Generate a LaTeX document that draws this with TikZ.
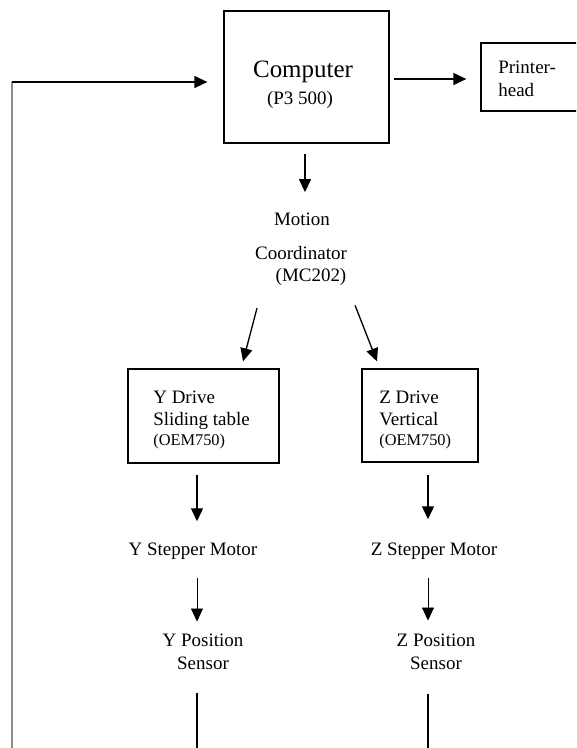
\documentclass[tikz,border=0pt]{standalone}
\usepackage{fontspec}
\setmainfont{Liberation Serif}
\usetikzlibrary{arrows.meta}
\newcommand{\mainsize}{\fontsize{10.8}{12.8}\selectfont}
\newcommand{\smallsize}{\fontsize{9.3}{11}\selectfont}
\newcommand{\bigsize}{\fontsize{14.2}{17}\selectfont}
\tikzstyle{block}=[draw, line width=0.75pt, inner sep=0pt]
\tikzstyle{txt}=[inner sep=0pt, font=\mainsize]
\tikzstyle{arr}=[-{Triangle[length=0.26cm,width=0.24cm]}, line width=0.75pt]

\begin{document}
\begin{tikzpicture}[x=0.02cm,y=-0.02cm]
  \useasboundingbox (0,0) rectangle (576,748);
  \clip (0,0) rectangle (576,748);
  %% Computer and printer head
  \draw (306.5,77) node[block,minimum width=3.3cm,minimum height=2.64cm] (comp) {};
  \draw (303,71.7) node[txt,font=\bigsize] (compname) {Computer};
  \draw (300,100) node[txt] (compid) {(P3 500)};
  \draw (535.5,77) node[block,minimum width=2.18cm,minimum height=1.36cm] (prn) {};
  \draw (498,78.8) node[txt,anchor=west,align=left] (prntxt) {Printer-\\head};

  %% Motion coordinator
  \draw (302,219.8) node[txt] (mc1) {Motion};
  \draw (301,252.8) node[txt] (mc2) {Coordinator};
  \draw (311,277) node[txt] (mc3) {(MC202)};

  %% Drives
  \draw (203.5,416) node[block,minimum width=3.02cm,minimum height=1.88cm] (ydrv) {};
  \draw (420,415.5) node[block,minimum width=2.32cm,minimum height=1.86cm] (zdrv) {};
  \draw (153,390.3) node[txt,anchor=north west,align=left] (ydrvtxt) {Y Drive\\Sliding table\\[-1.5pt]{\smallsize (OEM750)}};
  \draw (379,390.3) node[txt,anchor=north west,align=left] (zdrvtxt) {Z Drive\\Vertical\\[-1.5pt]{\smallsize (OEM750)}};

  %% Motors and sensors
  \draw (193,550.9) node[txt] (ymot) {Y Stepper Motor};
  \draw (434,550.9) node[txt] (zmot) {Z Stepper Motor};
  \draw (203,652) node[txt,align=center] (ysen) {Y Position\\Sensor};
  \draw (436,652) node[txt,align=center] (zsen) {Z Position\\Sensor};

  \coordinate (ccol) at (305,0);
  \coordinate (ycol) at (197,748);
  \coordinate (zcol) at (428,748);
  \coordinate (fbend) at (12,748);
  \coordinate (fbin) at ([yshift=-0.1cm]comp.west);

  %% Connections
  \draw[arr, shorten <=0.08cm, shorten >=0.28cm] ([yshift=-0.04cm]comp.east) -- ([yshift=-0.04cm]prn.west);
  \draw[arr, shorten <=0.2cm, shorten >=0.42cm] (comp.south -| ccol) -- (mc1.north -| ccol);
  \draw[arr, shorten <=0.46cm, shorten >=0.145cm] ([xshift=-0.964cm]mc3.south) -- ([xshift=0.754cm]ydrv.north);
  \draw[arr, shorten <=0.416cm, shorten >=0.15cm] ([xshift=0.73cm]mc3.south) -- ([xshift=-0.806cm]zdrv.north);

  \draw[arr, shorten <=0.22cm, shorten >=0.42cm] (ydrv.south -| ycol) -- (ymot.north -| ycol);
  \draw[arr, shorten <=0.24cm, shorten >=0.46cm] (zdrv.south -| zcol) -- (zmot.north -| zcol);
  \draw[arr, line width=0.45pt, shorten <=0.36cm, shorten >=0.25cm] (ymot.south -| ycol) -- (ysen.north -| ycol);
  \draw[arr, line width=0.45pt, shorten <=0.36cm, shorten >=0.27cm] (zmot.south -| zcol) -- (zsen.north -| zcol);
  \draw[line width=0.75pt, shorten <=0.46cm] (ysen.south -| ycol) -- (ycol);
  \draw[line width=0.75pt, shorten <=0.48cm] (zsen.south -| zcol) -- (zcol);

  %% Feedback
  \draw[line width=0.75pt, black!45] (fbend) -- (fbend |- fbin);
  \draw[arr, shorten >=0.32cm] (fbend |- fbin) -- (fbin);
\end{tikzpicture}
\end{document}
